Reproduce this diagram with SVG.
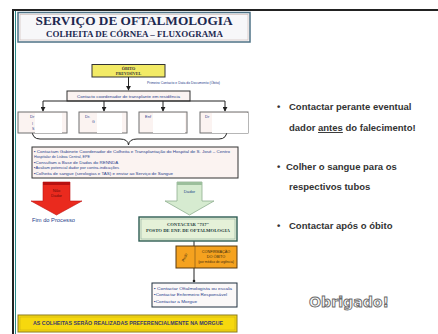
<svg xmlns="http://www.w3.org/2000/svg" width="438" height="334" viewBox="0 0 438 334">
<defs>
<style>
.tiny{font-family:"Liberation Sans",Arial,sans-serif;fill:#27408b}
.ser{font-family:"Liberation Serif","Times New Roman",serif;font-weight:bold}
.rt{font-family:"Liberation Sans",Arial,sans-serif;font-weight:bold;font-size:9.5px;fill:#333}
.box{fill:#fbf3f1;stroke:#6f6f6f;stroke-width:1}
.ln{stroke:#222;stroke-width:1;fill:none}
</style>
<marker id="ah" viewBox="0 0 6 6" refX="5" refY="3" markerWidth="5" markerHeight="5" orient="auto"><path d="M0,0 L6,3 L0,6 z" fill="#222"/></marker>
</defs>
<rect width="438" height="334" fill="#fff"/>
<line x1="12" y1="10" x2="438" y2="10" stroke="#222" stroke-width="2"/>
<line x1="13" y1="9" x2="13" y2="334" stroke="#222" stroke-width="2"/>
<line x1="15.5" y1="11" x2="15.5" y2="334" stroke="#2a8a8a" stroke-width="1"/>

<g id="title">
<rect x="18" y="12.5" width="232" height="29.5" fill="#f7f7f9" stroke="#4f7386" stroke-width="1.5"/>
<rect x="20" y="14.5" width="228" height="25.5" fill="none" stroke="#c9b4b0" stroke-width="0.6"/>
<text x="134" y="25" class="ser" font-size="13.2" fill="#1c2850" text-anchor="middle" textLength="197" lengthAdjust="spacingAndGlyphs">SERVIÇO DE OFTALMOLOGIA</text>
<text x="134.5" y="37" class="ser" font-size="8.6" fill="#1c2850" text-anchor="middle" textLength="177" lengthAdjust="spacingAndGlyphs">COLHEITA DE CÓRNEA – FLUXOGRAMA</text>
</g>

<g id="obito">
<rect x="92" y="64.5" width="73" height="12.5" fill="#f2ea66" stroke="#333" stroke-width="1"/>
<text x="128.5" y="69.8" class="ser" font-size="4.2" fill="#333" text-anchor="middle">ÓBITO</text>
<text x="128.5" y="75" class="ser" font-size="4.2" fill="#333" text-anchor="middle">PREVISÍVEL</text>
</g>
<text x="147" y="84" class="tiny" font-size="3.6" textLength="73" lengthAdjust="spacingAndGlyphs">Primeiro Contacto e Data do Documento (Óbito)</text>

<g id="coordenador">
<rect x="67" y="91" width="123" height="10" fill="#fbf3f1" stroke="#333" stroke-width="1"/>
<text x="128.5" y="97.6" class="tiny" font-size="4.4" text-anchor="middle" textLength="103" lengthAdjust="spacingAndGlyphs">Contacto coordenador de transplante em residência</text>
</g>

<g id="connectors">
<line class="ln" x1="128.5" y1="77" x2="128.5" y2="90" marker-end="url(#ah)"/>
<line class="ln" x1="43" y1="101" x2="225" y2="101"/>
<line class="ln" x1="43" y1="101" x2="43" y2="111" marker-end="url(#ah)"/>
<line class="ln" x1="104" y1="101" x2="104" y2="111" marker-end="url(#ah)"/>
<line class="ln" x1="163" y1="101" x2="163" y2="111" marker-end="url(#ah)"/>
<line class="ln" x1="225" y1="101" x2="225" y2="111" marker-end="url(#ah)"/>
<path class="ln" d="M32,130 Q32,139 40,139 L120,139 Q128,139 128.5,145 Q129,139 137,139 L219,139 Q227,139 227,130"/>
<line class="ln" x1="194" y1="241" x2="194" y2="280"/>
<circle cx="194" cy="281" r="1.3" fill="#222"/>
</g>

<g id="box1">
<rect class="box" x="18" y="112" width="49" height="21"/>
<rect x="35" y="113" width="27" height="20" fill="#fff"/>
<text x="30" y="118" class="tiny" font-size="4">Dr</text>
<text x="32" y="125" class="tiny" font-size="3.5">I</text>
<text x="32" y="130" class="tiny" font-size="3.5">S</text>
</g>
<g id="box2">
<rect class="box" x="79" y="112" width="48" height="21"/>
<rect x="97" y="113" width="25" height="20" fill="#fff"/>
<text x="85" y="118" class="tiny" font-size="4">Dr.</text>
<text x="92" y="123" class="tiny" font-size="3.5">G</text>
</g>
<g id="box3">
<rect class="box" x="139" y="112" width="48" height="21"/>
<rect x="153" y="113" width="32" height="20" fill="#fff"/>
<text x="145" y="118" class="tiny" font-size="4">Enf</text>
</g>
<g id="box4">
<rect class="box" x="200" y="112" width="48" height="21"/>
<rect x="212" y="113" width="36" height="20" fill="#fff"/>
<text x="205" y="118" class="tiny" font-size="4">Dr</text>
</g>

<g id="acoes">
<rect x="32" y="147" width="206" height="31" fill="#fbf3f1" stroke="#333" stroke-width="1"/>
<text class="tiny" font-size="4.3">
<tspan x="34" y="153" textLength="196" lengthAdjust="spacingAndGlyphs">▪ Contactam Gabinete Coordenador de Colheita e Transplantação do Hospital de S. José – Centro</tspan>
<tspan x="34" y="158" textLength="56" lengthAdjust="spacingAndGlyphs">Hospitalar de Lisboa Central, EPE</tspan>
<tspan x="34" y="163.5" textLength="84" lengthAdjust="spacingAndGlyphs">▪Consultam a Base de Dados do RENNDA</tspan>
<tspan x="34" y="169" textLength="85" lengthAdjust="spacingAndGlyphs">▪Avaliam potencial dador por contra-indicações</tspan>
<tspan x="34" y="174.5" textLength="139" lengthAdjust="spacingAndGlyphs">▪Colheita de sangue (serologias e TAS) e enviar ao Serviço de Sangue</tspan>
</text>
</g>

<g id="nao-dador">
<path d="M43,182 H70 V201 H82 L56.5,215 L31,201 H43 Z" fill="#ea2a1e" stroke="#c01010" stroke-width="0.6"/>
<rect x="43" y="182" width="27" height="3" fill="#b81010"/>
<text x="56.5" y="192" class="tiny" font-size="4" text-anchor="middle" style="fill:#6a0a0a">Não</text>
<text x="56.5" y="197" class="tiny" font-size="4" text-anchor="middle" style="fill:#6a0a0a">Dador</text>
<text x="32" y="222" class="tiny" font-size="4.8" textLength="43" lengthAdjust="spacingAndGlyphs">Fim do Processo</text>
</g>

<g id="dador">
<path d="M177,182 H202 V201 H214 L189.5,215 L165,201 H177 Z" fill="#d6ebd0" stroke="#8fae90" stroke-width="0.8"/>
<rect x="177" y="182" width="25" height="3" fill="#9cbf9c"/>
<text x="189.5" y="193" class="tiny" font-size="4.2" text-anchor="middle" style="fill:#2a4a8a">Dador</text>
</g>

<g id="contactar">
<rect x="139" y="217" width="98" height="24" fill="#e5f1d8" stroke="#2f5d55" stroke-width="1.4"/>
<rect x="141" y="219" width="94" height="20" fill="none" stroke="#7fa090" stroke-width="0.5"/>
<text x="188" y="226" class="ser" font-size="4.6" fill="#1c3a3a" text-anchor="middle">CONTACTAR "737"</text>
<text x="188" y="232" class="ser" font-size="4.6" fill="#1c3a3a" text-anchor="middle" textLength="84" lengthAdjust="spacingAndGlyphs">POSTO DE ENF. DE OFTALMOLOGIA</text>
</g>

<g id="confirmacao">
<rect x="176" y="246" width="61" height="22" fill="#f5a21f" stroke="#5a3a10" stroke-width="1"/>
<line x1="195" y1="246" x2="195" y2="268" stroke="#5a3a10" stroke-width="0.5"/>
<text x="0" y="0" class="tiny" font-size="3.8" style="fill:#3a2a10" transform="translate(184,262) rotate(-65)">Pedir</text>
<text x="216" y="252.5" class="tiny" font-size="3.8" style="fill:#3a2a10" text-anchor="middle">CONFIRMAÇÃO</text>
<text x="216" y="257.5" class="tiny" font-size="3.8" style="fill:#3a2a10" text-anchor="middle">DO ÓBITO</text>
<text x="216" y="263" class="tiny" font-size="3.2" style="fill:#3a2a10" text-anchor="middle">(por médico de urgência)</text>
</g>

<g id="contactos">
<rect x="152" y="283" width="85" height="24" fill="#fbf8f8" stroke="#1f2f3f" stroke-width="1"/>
<text class="tiny" font-size="4.2">
<tspan x="154" y="289.5" textLength="78" lengthAdjust="spacingAndGlyphs">▪ Contactar Oftalmologista ou escala</tspan>
<tspan x="154" y="296" textLength="73" lengthAdjust="spacingAndGlyphs">▪Contactar Enfermeiro Responsável</tspan>
<tspan x="154" y="302.5" textLength="43" lengthAdjust="spacingAndGlyphs">▪Contactar a Morgue</tspan>
</text>
</g>

<g id="morgue">
<rect x="18" y="315" width="219" height="17" fill="#f6d80e" stroke="#8a7a20" stroke-width="1"/>
<rect x="20" y="317" width="215" height="13" fill="none" stroke="#c4a818" stroke-width="0.5"/>
<text x="128" y="324.5" class="tiny" font-size="4.8" font-weight="bold" text-anchor="middle" textLength="190" lengthAdjust="spacingAndGlyphs" style="fill:#3a3a6a">AS COLHEITAS SERÃO REALIZADAS PREFERENCIALMENTE NA MORGUE</text>
</g>

<g id="notas">
<text x="277" y="110" class="rt">•</text>
<text x="289" y="110" class="rt">Contactar perante eventual</text>
<text x="289" y="131" class="rt">dador <tspan text-decoration="underline">antes</tspan> do falecimento!</text>
<text x="277" y="170" class="rt">•</text>
<text x="286" y="170" class="rt">Colher o sangue para os</text>
<text x="289" y="190" class="rt">respectivos tubos</text>
<text x="277" y="229" class="rt">•</text>
<text x="289" y="229" class="rt">Contactar após o óbito</text>
</g>
<text x="349" y="307" font-family="'DejaVu Sans',sans-serif" font-weight="bold" font-size="14" fill="#fff" stroke="#6a6a6a" stroke-width="0.9" text-anchor="middle" textLength="80" lengthAdjust="spacingAndGlyphs">Obrigado!</text>
</svg>
